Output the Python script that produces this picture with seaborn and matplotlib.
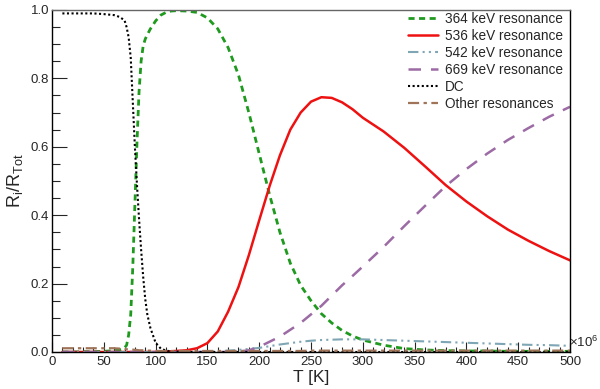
import matplotlib
matplotlib.use("Agg")
import matplotlib.pyplot as plt
import numpy as np
import seaborn as sns
from matplotlib.ticker import MultipleLocator

sns.set_style("white")
plt.rcParams['font.family'] = ['Liberation Sans', 'DejaVu Sans']
plt.rcParams['mathtext.default'] = 'regular'

# temperature grid (K)
T = [10, 20, 30, 40, 50, 60, 65, 70, 72, 74, 76, 78, 80, 82, 84, 86, 88, 90, 92, 95,
     100, 105, 110, 115, 120, 130, 140, 150, 160, 170, 180, 190, 200, 210, 220, 230,
     240, 250, 260, 270, 280, 290, 300, 320, 340, 360, 380, 400, 420, 440, 460, 480, 500]

r364 = [0.0, 0.0, 0.001, 0.001, 0.002, 0.004, 0.006, 0.012, 0.02, 0.05, 0.11, 0.25,
        0.43, 0.61, 0.76, 0.85, 0.895, 0.915, 0.928, 0.945, 0.968, 0.985, 0.993, 0.997,
        0.998, 0.997, 0.993, 0.977, 0.945, 0.89, 0.81, 0.70, 0.58, 0.46, 0.35, 0.26,
        0.195, 0.15, 0.112, 0.085, 0.063, 0.047, 0.035, 0.02, 0.01, 0.006, 0.004, 0.003,
        0.003, 0.002, 0.002, 0.002, 0.002]

r536 = [0.0, 0.0, 0.0, 0.0, 0.0, 0.0, 0.0, 0.0, 0.0, 0.0, 0.0, 0.0, 0.0, 0.0, 0.0,
        0.0, 0.0, 0.0, 0.0, 0.0, 0.0, 0.0, 0.001, 0.002, 0.003, 0.005, 0.011, 0.026,
        0.06, 0.118, 0.19, 0.283, 0.385, 0.485, 0.575, 0.65, 0.70, 0.732, 0.745, 0.743,
        0.73, 0.71, 0.685, 0.645, 0.597, 0.543, 0.488, 0.44, 0.397, 0.358, 0.325,
        0.295, 0.268]

r542 = [0.0] * 27 + [0.001, 0.002, 0.004, 0.006, 0.009, 0.012, 0.017, 0.022, 0.026,
                     0.03, 0.033, 0.035, 0.036, 0.037, 0.037, 0.037, 0.035, 0.033,
                     0.031, 0.029, 0.027, 0.025, 0.023, 0.021, 0.02, 0.018]

r669 = [0.0] * 30 + [0.001, 0.005, 0.015, 0.03, 0.045, 0.065, 0.085, 0.11, 0.135,
                     0.165, 0.195, 0.222, 0.25, 0.307, 0.368, 0.427, 0.485, 0.535,
                     0.58, 0.62, 0.655, 0.688, 0.717]

dc = [0.99, 0.99, 0.99, 0.99, 0.988, 0.985, 0.98, 0.97, 0.95, 0.92, 0.86, 0.73, 0.60,
      0.49, 0.39, 0.30, 0.22, 0.155, 0.11, 0.07, 0.027, 0.01, 0.004, 0.002, 0.001] + [0.0] * 28

other = [0.011, 0.011, 0.011, 0.011, 0.011, 0.011, 0.01, 0.009, 0.008, 0.008, 0.007,
         0.007, 0.006, 0.006, 0.005, 0.005, 0.005, 0.004, 0.004, 0.004, 0.003, 0.003,
         0.003, 0.003, 0.003, 0.003, 0.003, 0.003, 0.003, 0.003, 0.003, 0.003, 0.003,
         0.003, 0.003, 0.003, 0.003, 0.004, 0.004, 0.004, 0.004, 0.004, 0.004, 0.004,
         0.004, 0.004, 0.004, 0.004, 0.004, 0.004, 0.004, 0.004, 0.004]

series = [
    ("364 keV resonance", r364, "#1f9a1f", (0, (2.2, 1.6)), 2.0),
    ("536 keV resonance", r536, "#ee1111", "-", 1.8),
    ("542 keV resonance", r542, "#7fa6b4", (0, (5, 2, 1, 2, 1, 2)), 1.5),
    ("669 keV resonance", r669, "#9c6aa4", (0, (5, 4)), 1.8),
    ("DC", dc, "#000000", (0, (1, 1.2)), 1.5),
    ("Other resonances", other, "#a07458", (0, (5, 2, 1.5, 2)), 1.6),
]

fig = plt.figure(figsize=(6.0, 3.89), dpi=100)
ax = fig.add_axes([52 / 600, 1 - 352 / 389, 518 / 600, 342 / 389])

for name, vals, col, ls, lw in series:
    sns.lineplot(x=T, y=vals, color=col, linestyle=ls, linewidth=lw, label=name, ax=ax)

ax.set_xlim(0, 500)
ax.set_ylim(0, 1.0)
ax.xaxis.set_major_locator(MultipleLocator(50))
ax.xaxis.set_minor_locator(MultipleLocator(10))
ax.yaxis.set_major_locator(MultipleLocator(0.2))
ax.yaxis.set_minor_locator(MultipleLocator(0.05))
ax.yaxis.set_major_formatter(matplotlib.ticker.FormatStrFormatter('%.1f'))

ax.tick_params(axis='x', which='major', direction='in', length=7, width=0.8, pad=3,
               labelsize=9.5, bottom=True, top=False)
ax.tick_params(axis='x', which='minor', direction='in', length=3.5, width=0.8,
               bottom=True, top=False)
ax.tick_params(axis='y', which='major', direction='in', length=11, width=0.8, pad=2,
               labelsize=9.5, left=True, right=False)
ax.tick_params(axis='y', which='minor', direction='in', length=5.5, width=0.8,
               left=True, right=False)

for s in ax.spines.values():
    s.set_color('black')
    s.set_linewidth(1.0)
ax.spines['top'].set_color('#666666')

ax.set_xlabel("T [K]", fontsize=12.5, labelpad=1)
ax.set_ylabel(r"R$_{i}$/R$_{Tot}$", fontsize=13, labelpad=4)

ax.text(0.999, 0.005, r"$\times$10$^{6}$", transform=ax.transAxes, fontsize=9.5,
        ha='left', va='bottom')

ax.legend(loc='upper left', bbox_to_anchor=(0.688, 0.995), frameon=False,
          fontsize=9.8, handlelength=2.2, handletextpad=0.5, labelspacing=0.22,
          borderaxespad=0, borderpad=0)

fig.savefig("out.png", dpi=100)
